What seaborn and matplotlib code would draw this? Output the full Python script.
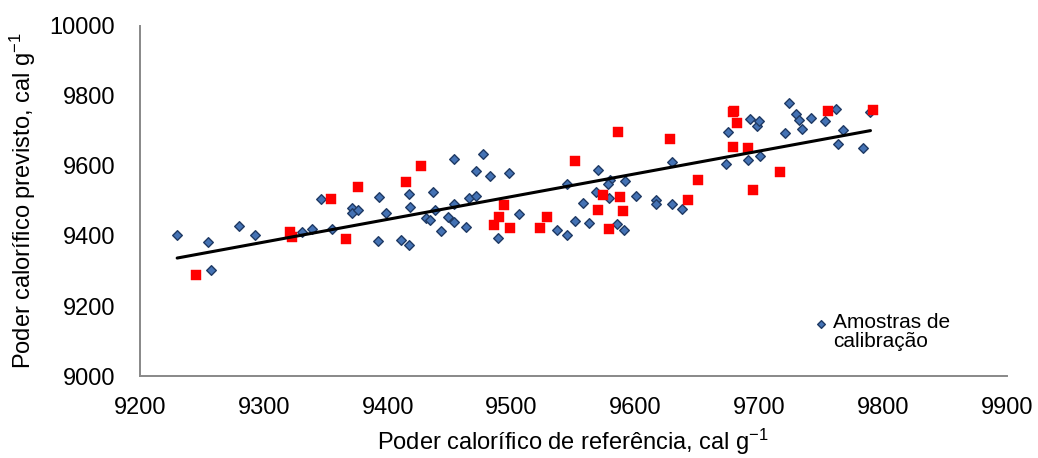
import matplotlib
matplotlib.use("Agg")
import matplotlib.pyplot as plt
import seaborn as sns
import pandas as pd

# calibration samples (blue diamonds)
cal_ref = [9230, 9255, 9257, 9280, 9293, 9331, 9339, 9346, 9355, 9371,
           9371, 9376, 9393, 9399, 9392, 9417, 9418, 9411, 9417, 9437,
           9438, 9431, 9434, 9443, 9454, 9454, 9449, 9454, 9463, 9477,
           9471, 9483, 9466, 9471, 9498, 9489, 9506, 9537, 9545, 9545,
           9551, 9558, 9563, 9570, 9568, 9579, 9580, 9578, 9592, 9585,
           9591, 9601, 9617, 9617, 9630, 9638, 9630, 9675, 9673, 9691,
           9693, 9698, 9700, 9701, 9724, 9730, 9732, 9721, 9735, 9742,
           9753, 9762, 9768, 9764, 9784, 9790]
cal_pred = [9403, 9382, 9303, 9428, 9404, 9410, 9420, 9505, 9421, 9479,
            9465, 9475, 9511, 9467, 9387, 9521, 9484, 9388, 9373, 9527,
            9473, 9451, 9445, 9414, 9619, 9491, 9453, 9440, 9427, 9635,
            9585, 9571, 9508, 9513, 9580, 9393, 9462, 9417, 9403, 9549,
            9444, 9494, 9436, 9589, 9527, 9508, 9560, 9549, 9556, 9433,
            9416, 9513, 9504, 9492, 9492, 9477, 9611, 9696, 9605, 9618,
            9733, 9715, 9728, 9628, 9781, 9748, 9731, 9695, 9705, 9736,
            9729, 9762, 9704, 9663, 9652, 9753]

# validation samples (red squares)
val_ref = [9245, 9321, 9323, 9354, 9366, 9376, 9415, 9427, 9494, 9490,
           9486, 9499, 9523, 9529, 9551, 9586, 9574, 9570, 9590, 9588,
           9579, 9643, 9628, 9651, 9679, 9680, 9682, 9679, 9691, 9695,
           9717, 9756, 9792]
val_pred = [9290, 9411, 9396, 9505, 9391, 9541, 9554, 9601, 9489, 9454,
            9432, 9424, 9422, 9455, 9615, 9697, 9517, 9474, 9472, 9510,
            9420, 9503, 9677, 9560, 9753, 9758, 9723, 9654, 9651, 9530,
            9583, 9758, 9761]

cal = pd.DataFrame({"ref": cal_ref, "pred": cal_pred})
val = pd.DataFrame({"ref": val_ref, "pred": val_pred})

sns.set_style("white")
plt.rcParams["font.family"] = ["Liberation Sans", "DejaVu Sans"]
plt.rcParams["mathtext.fontset"] = "custom"
plt.rcParams["mathtext.rm"] = "Liberation Sans"
plt.rcParams["mathtext.it"] = "Liberation Sans"
plt.rcParams["text.color"] = "black"
plt.rcParams["axes.labelcolor"] = "black"

fig = plt.figure(figsize=(10.38, 4.58), dpi=100)
ax = fig.add_axes([0.1349, 0.179, 0.8349, 0.7643])

sns.scatterplot(x="ref", y="pred", data=cal, marker="D", s=24,
                color="#4472B4", edgecolor="#1F3A64", linewidth=1.0,
                label="Amostras de\ncalibração", ax=ax, zorder=3)
sns.scatterplot(x="ref", y="pred", data=val, marker="s", s=55,
                color="#FF0000", edgecolor="#FF0000", linewidth=0.3,
                ax=ax, zorder=4, legend=False)
sns.regplot(x="ref", y="pred", data=cal, scatter=False, ci=None,
            color="black", line_kws={"linewidth": 2.2, "zorder": 5}, ax=ax)

ax.set_xlim(9200, 9900)
ax.set_ylim(9000, 10000)
ax.set_xticks(range(9200, 10000, 100))
ax.set_yticks(range(9000, 10001, 200))

sns.despine(ax=ax)
for side in ["left", "bottom"]:
    ax.spines[side].set_color("#888888")
    ax.spines[side].set_linewidth(1.4)
ax.tick_params(axis="both", direction="out", length=6, width=1.4,
               color="#888888", labelsize=17, labelcolor="black")
ax.tick_params(axis="y", pad=12)
ax.tick_params(axis="x", pad=9)

ax.set_xlabel(r"Poder calorífico de referência, cal g$^{\mathregular{-1}}$",
              fontsize=17, labelpad=6)
ax.set_ylabel(r"Poder calorífico previsto, cal g$^{\mathregular{-1}}$",
              fontsize=17, labelpad=8)

leg = ax.legend(loc="upper left", bbox_to_anchor=(0.776, 0.181), frameon=False,
                fontsize=15, scatterpoints=1, scatteryoffsets=[1.05],
                handletextpad=0.2, handlelength=0.8, markerscale=0.8,
                borderpad=0, borderaxespad=0)
for t in leg.get_texts():
    t.set_linespacing(1.05)
    t.set_color("black")

fig.savefig("out.png", dpi=100)
